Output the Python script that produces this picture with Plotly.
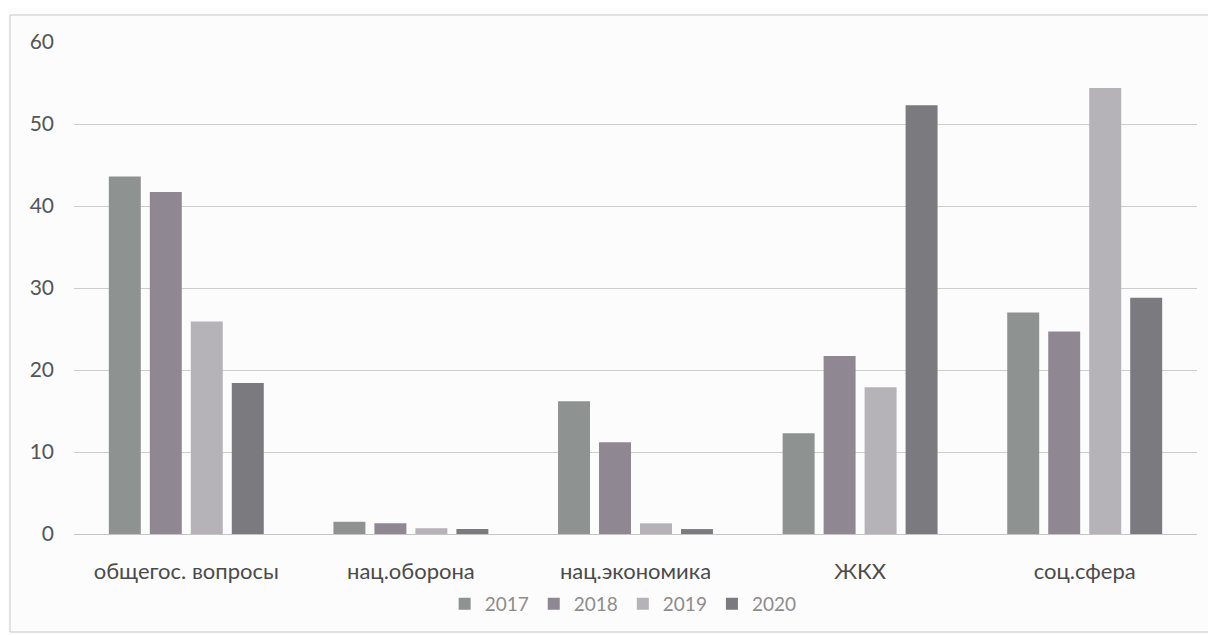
import plotly.graph_objects as go

categories = ["общегос. вопросы", "нац.оборона", "нац.экономика", "ЖКХ", "соц.сфера"]
years = ["2017", "2018", "2019", "2020"]
v2017 = [43.6, 1.5, 16.2, 12.3, 27.0]
v2018 = [41.7, 1.3, 11.2, 21.7, 24.7]
v2019 = [25.9, 0.7, 1.3, 17.9, 54.4]
v2020 = [18.4, 0.6, 0.6, 52.3, 28.8]
y_ticks = [0, 10, 20, 30, 40, 50, 60]

series = [v2017, v2018, v2019, v2020]
colors = ["#8e9291", "#8f8893", "#b5b2b8", "#7b7a7f"]

fig = go.Figure()
for name, vals, col in zip(years, series, colors):
    fig.add_trace(go.Bar(x=categories, y=vals, name=name, marker=dict(color=col, line=dict(width=0))))

# page has an 8px body margin; figure drawn at (8, 8)
W, H = 1208, 627
L, R, T, B = 66, 19, 34, 101
PW, PH = W - L - R, H - T - B
OFF = 8

def px_x(x):
    return (x - OFF - L) / PW

def px_y(y):
    return (H - B - (y - OFF)) / PH

fig.update_layout(
    width=W, height=H,
    margin=dict(l=L, r=R, t=T, b=B),
    barmode="group", bargap=0.27, bargroupgap=0.22,
    paper_bgcolor="#fcfcfc", plot_bgcolor="rgba(0,0,0,0)",
    font=dict(family="Lato, 'Open Sans', sans-serif", color="#444"),
    showlegend=True,
    legend=dict(orientation="h", x=0.489, xanchor="center", y=-0.142, yanchor="middle",
                font=dict(size=19, color="#8c8c8c"), itemwidth=30, traceorder="normal",
                bgcolor="rgba(0,0,0,0)"),
    xaxis=dict(showgrid=False, showline=True, linecolor="#c4c4c4", linewidth=1,
               ticks="", tickfont=dict(size=22, color="#4a4a4a"), ticklabelstandoff=18),
    yaxis=dict(range=[0, 60], tickvals=y_ticks, showgrid=True, gridcolor="#cdcdcd", gridwidth=1,
               zeroline=False, showline=False, ticks="", tickfont=dict(size=21, color="#555555"),
               ticklabelstandoff=19),
    shapes=[dict(type="rect", xref="paper", yref="paper",
                 x0=px_x(10), x1=px_x(1210),
                 y0=px_y(632), y1=px_y(15),
                 line=dict(color="#c8c8c8", width=1), layer="below")],
)

fig.write_html("out.html")
